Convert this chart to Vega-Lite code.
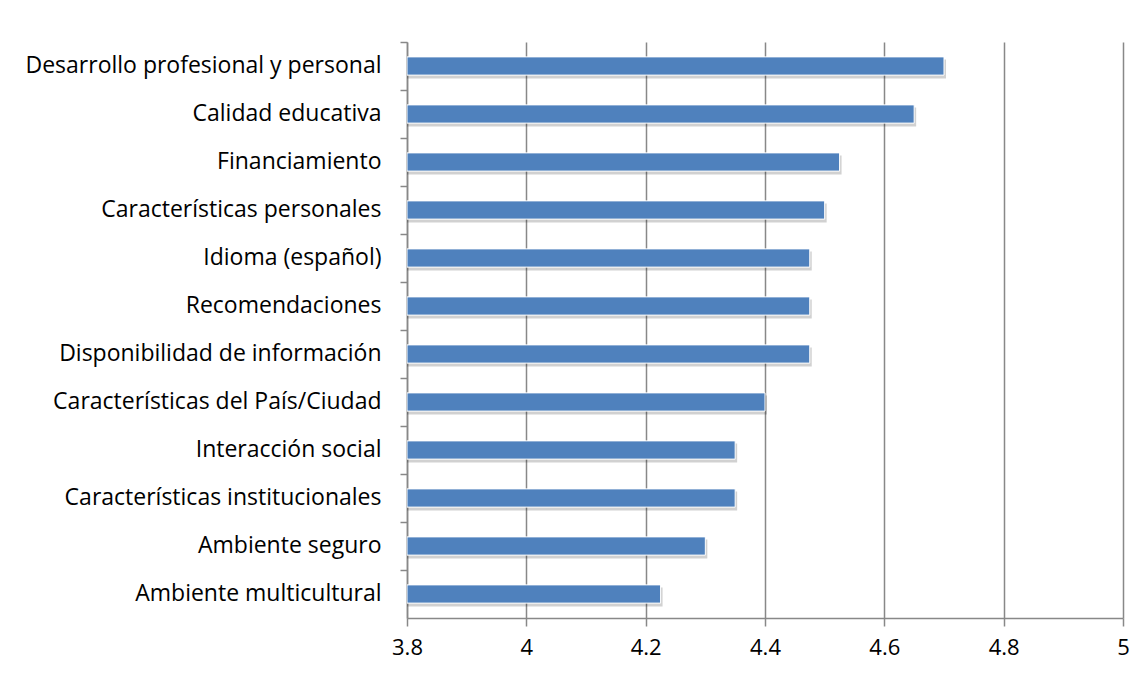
{
  "$schema": "https://vega.github.io/schema/vega-lite/v6.json",
  "autosize": {"type": "none"},
  "width": 716,
  "height": 576,
  "padding": {"left": 407, "top": 42, "right": 24, "bottom": 61},
  "background": "white",
  "config": {
    "view": {"stroke": null},
    "font": "Open Sans"
  },
  "data": {
    "values": [
      {"factor": "Desarrollo profesional y personal", "valor": 4.7},
      {"factor": "Calidad educativa", "valor": 4.65},
      {"factor": "Financiamiento", "valor": 4.525},
      {"factor": "Características personales", "valor": 4.5},
      {"factor": "Idioma (español)", "valor": 4.475},
      {"factor": "Recomendaciones", "valor": 4.475},
      {"factor": "Disponibilidad de información", "valor": 4.475},
      {"factor": "Características del País/Ciudad", "valor": 4.4},
      {"factor": "Interacción social", "valor": 4.35},
      {"factor": "Características institucionales", "valor": 4.35},
      {"factor": "Ambiente seguro", "valor": 4.3},
      {"factor": "Ambiente multicultural", "valor": 4.225}
    ]
  },
  "encoding": {
    "y": {
      "field": "factor",
      "type": "nominal",
      "sort": null,
      "scale": {"paddingInner": 0, "paddingOuter": 0},
      "axis": {
        "title": null,
        "bandPosition": 0,
        "domainColor": "#888888",
        "domainWidth": 1.5,
        "tickColor": "#888888",
        "tickWidth": 1.5,
        "tickSize": 7,
        "labelPadding": 19,
        "labelFontSize": 23,
        "labelColor": "#000000",
        "labelFont": "Open Sans",
        "labelLimit": 420,
        "grid": false
      }
    },
    "x": {
      "field": "valor",
      "type": "quantitative",
      "scale": {"domain": [3.8, 5], "zero": false, "nice": false},
      "axis": {
        "title": null,
        "values": [3.8, 4, 4.2, 4.4, 4.6, 4.8, 5],
        "format": "~g",
        "grid": true,
        "gridColor": "#888888",
        "gridWidth": 1.5,
        "domainColor": "#888888",
        "domainWidth": 1.5,
        "tickColor": "#888888",
        "tickWidth": 1.5,
        "tickSize": 8,
        "labelPadding": 11,
        "labelFontSize": 22,
        "labelColor": "#000000",
        "labelFont": "Open Sans",
        "labelFlush": false
      }
    },
    "x2": {"datum": 3.8}
  },
  "layer": [
    {
      "mark": {"type": "bar", "height": {"band": 0.4}, "color": "#000000", "opacity": 0.18, "xOffset": 2, "yOffset": 3, "clip": true},
      "encoding": {}
    },
    {
      "mark": {"type": "bar", "height": {"band": 0.38}, "color": "#4F81BD", "stroke": "#ffffff", "strokeWidth": 1, "clip": true}
    }
  ]
}
